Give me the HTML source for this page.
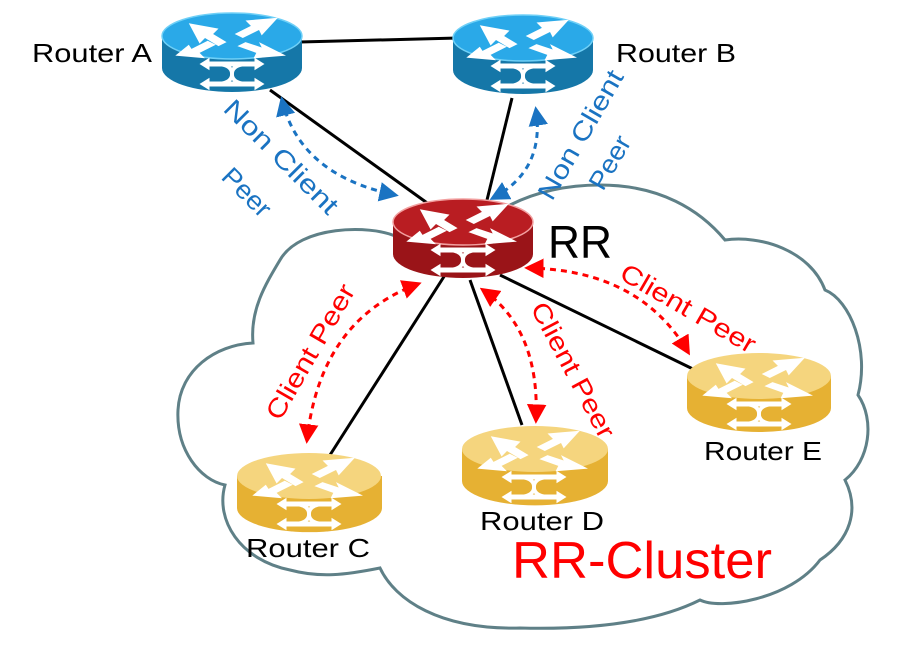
<!DOCTYPE html>
<html><head><meta charset="utf-8"><style>
html,body{margin:0;padding:0;background:#fff;}
svg{display:block;}
text{font-family:"Liberation Sans",sans-serif;}
</style></head><body>
<svg width="919" height="656" viewBox="0 0 919 656" xmlns="http://www.w3.org/2000/svg">
<defs>
<marker id="bh" viewBox="0 0 10 10" refX="8" refY="5" markerWidth="6.5" markerHeight="6.5" orient="auto-start-reverse"><path d="M0,0 L10,5 L0,10 z" fill="#1a73c2"/></marker>
<marker id="rh" viewBox="0 0 10 10" refX="8" refY="5" markerWidth="6.5" markerHeight="6.5" orient="auto-start-reverse"><path d="M0,0 L10,5 L0,10 z" fill="#f00"/></marker>
<g id="icons">
  <g fill="#fff">
    <g transform="translate(70,24) scale(1.35) translate(-70,-24)">
    <path d="M38,16 L60,20 L56,24 L66,30 L60,33 L50,27 L46,31 Z"/>
    <path d="M104,12 L80,14 L84,18 L72,24 L78,27 L90,21 L92,25 Z"/>
    <path d="M28,40 L50,42 L46,38 L58,32 L52,29 L40,35 L38,32 Z"/>
    <path d="M110,40 L90,30 L92,34 L80,30 L74,33 L88,38 L86,42 Z"/>
    </g>
    <g transform="translate(70,64) scale(1.25) translate(-70,-64)">
    <path d="M44,56 L52,51 L52,54 L88,54 L88,51 L96,56 L88,61 L88,58 L52,58 L52,61 Z"/>
    <path d="M44,72 L52,67 L52,70 L88,70 L88,67 L96,72 L88,77 L88,74 L52,74 L52,77 Z"/>
    <path d="M56,56 Q70,56 70,64 Q70,72 84,72" stroke="#fff" stroke-width="3" fill="none"/>
    <path d="M56,72 Q70,72 70,64 Q70,56 84,56" stroke="#fff" stroke-width="3" fill="none"/>
    </g>
  </g>
</g>
</defs>

<path d="M395,236 C370,225 300,225 280,260 C265,285 250,310 253,343 C215,345 180,370 178,410 C176,450 200,480 225,485 C215,520 240,560 290,570 C320,578 345,575 380,568 C395,600 440,630 520,628 C600,630 660,620 700,600 C720,610 790,600 820,560 C850,540 860,510 845,480 C870,460 875,420 858,395 C870,350 850,300 825,290 C810,250 760,235 725,240 C700,210 660,185 600,185 C560,185 530,195 510,205" fill="none" stroke="#5f8087" stroke-width="3"/>

<g stroke="#000" stroke-width="3">
<line x1="300" y1="42" x2="458" y2="38"/>
<line x1="270" y1="90" x2="430" y2="205"/>
<line x1="512" y1="98" x2="487" y2="200"/>
<line x1="445" y1="275" x2="330" y2="455"/>
<line x1="470" y1="280" x2="522" y2="425"/>
<line x1="500" y1="275" x2="695" y2="370"/>
</g>

<g stroke="#1a73c2" stroke-width="3" stroke-dasharray="6,5" fill="none">
<path d="M282,100 Q300,175 395,195" marker-start="url(#bh)" marker-end="url(#bh)"/>
<path d="M536,110 Q545,170 493,198" marker-start="url(#bh)" marker-end="url(#bh)"/>
</g>
<g stroke="#f00" stroke-width="3" stroke-dasharray="6,5" fill="none">
<path d="M418,284 Q320,320 307,440" marker-start="url(#rh)" marker-end="url(#rh)"/>
<path d="M483,290 Q540,330 536,420" marker-start="url(#rh)" marker-end="url(#rh)"/>
<path d="M528,268 Q640,270 688,352" marker-start="url(#rh)" marker-end="url(#rh)"/>
</g>

<g transform="translate(162,12)">
<path d="M0,24 L0,56 A70,24 0 0 0 140,56 L140,24 Z" fill="#1577a8"/>
<ellipse cx="70" cy="24" rx="70" ry="23" fill="#2aa9e8" stroke="#6fd0f7" stroke-width="1.5"/>
<use href="#icons" transform="translate(0,-2)"/>
</g>
<g transform="translate(453,14)">
<path d="M0,24 L0,56 A70,24 0 0 0 140,56 L140,24 Z" fill="#1577a8"/>
<ellipse cx="70" cy="24" rx="70" ry="23" fill="#2aa9e8" stroke="#6fd0f7" stroke-width="1.5"/>
<use href="#icons" transform="translate(0,-2)"/>
</g>
<g transform="translate(393,198)">
<path d="M0,24 L0,56 A70,24 0 0 0 140,56 L140,24 Z" fill="#9a1418"/>
<ellipse cx="70" cy="24" rx="70" ry="23" fill="#b91d22" stroke="#f2a0a0" stroke-width="1.5"/>
<use href="#icons" transform="translate(0,-2)"/>
</g>
<g transform="translate(237,452)">
<path d="M0,24 L0,56 A72,24 0 0 0 145,56 L145,24 Z" fill="#e6b133"/>
<ellipse cx="72" cy="24" rx="72" ry="23" fill="#f5d57e"/>
<use href="#icons" transform="translate(2,-2)"/>
</g>
<g transform="translate(462,425)">
<path d="M0,24 L0,56 A72,24 0 0 0 146,56 L146,24 Z" fill="#e6b133"/>
<ellipse cx="73" cy="24" rx="73" ry="23" fill="#f5d57e"/>
<use href="#icons" transform="translate(2,-2)"/>
</g>
<g transform="translate(687,352)">
<path d="M0,24 L0,56 A72,24 0 0 0 144,56 L144,24 Z" fill="#e6b133"/>
<ellipse cx="72" cy="24" rx="72" ry="23" fill="#f5d57e"/>
<use href="#icons" transform="translate(2,-2)"/>
</g>

<text x="32" y="62" font-size="26" textLength="120" lengthAdjust="spacingAndGlyphs">Router A</text>
<text x="616" y="62" font-size="26" textLength="120" lengthAdjust="spacingAndGlyphs">Router B</text>
<text x="548" y="258" font-size="46" textLength="64" lengthAdjust="spacingAndGlyphs">RR</text>
<text x="246" y="557" font-size="26" textLength="124" lengthAdjust="spacingAndGlyphs">Router C</text>
<text x="480" y="530" font-size="26" textLength="124" lengthAdjust="spacingAndGlyphs">Router D</text>
<text x="704" y="460" font-size="26" textLength="118" lengthAdjust="spacingAndGlyphs">Router E</text>
<text x="512" y="578" font-size="52" fill="#f00" textLength="260" lengthAdjust="spacingAndGlyphs">RR-Cluster</text>

<g fill="#1a73c2" font-size="26">
<text transform="translate(222,110) rotate(45)" textLength="150" lengthAdjust="spacingAndGlyphs">Non Client</text>
<text transform="translate(220,178) rotate(45)" textLength="58" lengthAdjust="spacingAndGlyphs">Peer</text>
<text transform="translate(552,202) rotate(-60)" textLength="145" lengthAdjust="spacingAndGlyphs">Non Client</text>
<text transform="translate(603,192) rotate(-60)" textLength="58" lengthAdjust="spacingAndGlyphs">Peer</text>
</g>
<g fill="#f00" font-size="26">
<text transform="translate(280,422) rotate(-60)" textLength="152" lengthAdjust="spacingAndGlyphs">Client Peer</text>
<text transform="translate(530,308) rotate(62)" textLength="150" lengthAdjust="spacingAndGlyphs">Client Peer</text>
<text transform="translate(618,278) rotate(30)" textLength="152" lengthAdjust="spacingAndGlyphs">Client Peer</text>
</g>
</svg>
</body></html>
